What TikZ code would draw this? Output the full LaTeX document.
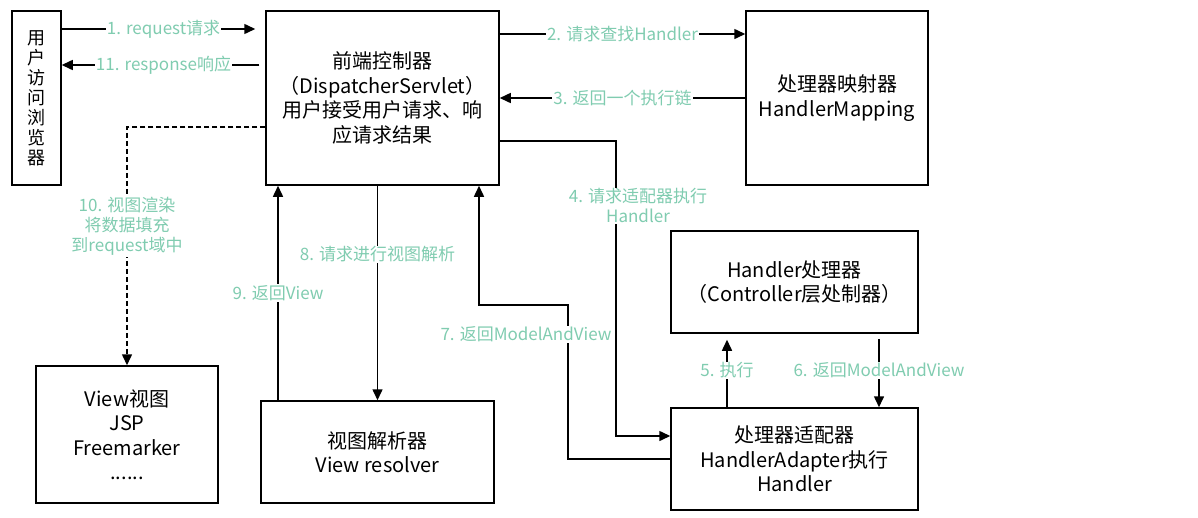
\documentclass[tikz,border=0pt]{standalone}
\usepackage{fontspec}
\setmainfont{Noto Sans CJK SC}
\usetikzlibrary{arrows.meta}
\definecolor{lblgreen}{RGB}{128,204,176}

\begin{document}
\begin{tikzpicture}[x=1pt,y=-1pt,
  box/.style={draw, rectangle, line width=1.5pt, align=center, inner sep=0pt, font=\fontsize{20}{24.5}\selectfont},
  lbl/.style={fill=white, text=lblgreen, inner sep=1pt, align=center, font=\fontsize{17}{20}\selectfont},
  arr/.style={draw, line width=1.5pt, -{Triangle[length=11pt,width=10pt]}}]
\useasboundingbox (0,0) rectangle (1198,517);
\node[box, minimum width=49pt, minimum height=174pt, font=\fontsize{18}{20}\selectfont] (browser) at (36.5,98) {用\\户\\访\\问\\浏\\览\\器};
\node[box, minimum width=233pt, minimum height=174pt] (disp) at (382.5,98) {前端控制器\\（DispatcherServlet）\\用户接受用户请求、响\\应请求结果};
\node[box, minimum width=182pt, minimum height=174pt] (hmap) at (837,98) {处理器映射器\\HandlerMapping};
\node[box, minimum width=247pt, minimum height=102pt] (handler) at (794.5,282) {Handler处理器\\（Controller层处制器）};
\node[box, minimum width=247pt, minimum height=102pt] (adapter) at (794.5,459) {处理器适配器\\HandlerAdapter执行\\Handler};
\node[box, minimum width=233pt, minimum height=102pt] (resolver) at (377.5,452) {视图解析器\\View resolver};
\node[box, minimum width=182pt, minimum height=137pt] (view) at (127,434.5) {View视图\\JSP\\Freemarker\\......};
\coordinate (k4) at (616,436);
\coordinate (k7) at (568,305);
\coordinate (k9) at ([xshift=-99.5pt]resolver.north);
\path[arr, shorten >=10pt] ([yshift=69pt]browser.east) -- node[lbl]{1. request请求} ([yshift=69pt]disp.west);
\path[arr, shorten <=6pt] ([yshift=33pt]disp.west) -- node[lbl]{11. response响应} ([yshift=33pt]browser.east);
\path[arr] ([yshift=64pt]disp.east) -- node[lbl]{2. 请求查找Handler} ([yshift=64pt]hmap.west);
\path[arr] (hmap.west) -- node[lbl]{3. 返回一个执行链} (disp.east);
\path[arr, dash pattern=on 5pt off 3pt] ([yshift=-29pt]disp.west) -| node[lbl, pos=0.709]{10. 视图渲染\\将数据填充\\到request域中} (view.north);
\path[arr] ([yshift=-43pt]disp.east) -| node[lbl, pos=0.61, xshift=22pt]{4. 请求适配器执行\\Handler} (k4) -- (adapter.west |- k4);
\path[arr, shorten >=6pt] ([xshift=-67.5pt]adapter.north) -- node[lbl]{5. 执行} ([xshift=-67.5pt]handler.south);
\path[arr, shorten <=5pt] ([xshift=84.5pt]handler.south) -- node[lbl]{6. 返回ModelAndView} ([xshift=84.5pt]adapter.north);
\path[arr] (adapter.west) -| node[lbl, pos=0.905, xshift=-42pt]{7. 返回ModelAndView} (k7) -| ([xshift=96.5pt]disp.south);
\path[arr] (resolver.north |- disp.south) -- node[lbl, pos=0.32]{8. 请求进行视图解析} (resolver.north);
\path[arr] (k9) -- node[lbl]{9. 返回View} (k9 |- disp.south);
\end{tikzpicture}
\end{document}
